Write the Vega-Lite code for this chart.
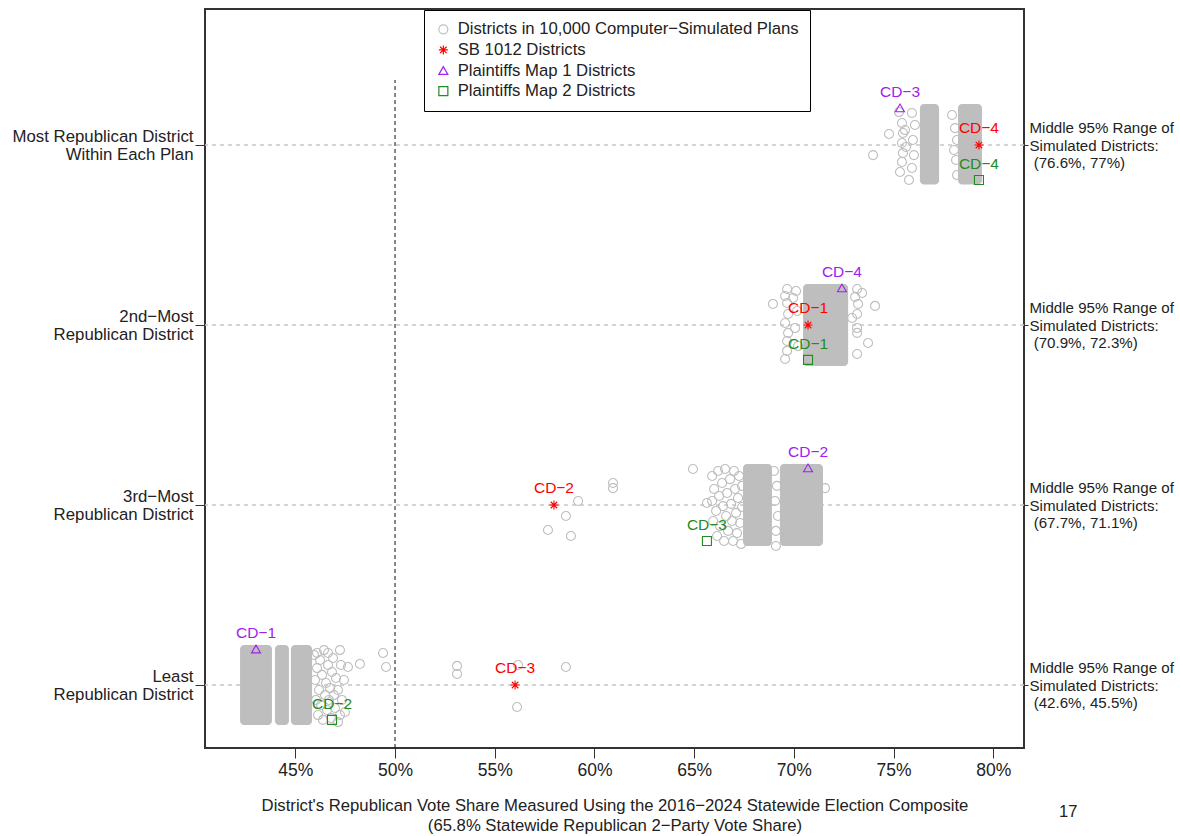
{
  "$schema": "https://vega.github.io/schema/vega-lite/v6.json",
  "width": 819,
  "height": 739,
  "autosize": {"type": "none"},
  "padding": {"left": 205, "top": 9, "right": 156, "bottom": 88},
  "background": "white",
  "config": {
    "font": "Liberation Sans",
    "view": {"stroke": "#333333", "strokeWidth": 2}
  },
  "datasets": {
    "ranks": [{"rank": 1}, {"rank": 2}, {"rank": 3}, {"rank": 4}],
    "ref": [{"share": 50, "low": 0.65, "high": 4.361}],
    "blocks": [
      {"from": 76.32, "to": 77.28, "low": 3.78, "high": 4.228},
      {"from": 78.23, "to": 79.43, "low": 3.78, "high": 4.228},
      {"from": 70.46, "to": 72.72, "low": 2.772, "high": 3.228},
      {"from": 67.45, "to": 68.9, "low": 1.772, "high": 2.228},
      {"from": 69.3, "to": 71.46, "low": 1.772, "high": 2.228},
      {"from": 42.23, "to": 43.83, "low": 0.778, "high": 1.222},
      {"from": 43.98, "to": 44.68, "low": 0.778, "high": 1.222},
      {"from": 44.78, "to": 45.84, "low": 0.778, "high": 1.222}
    ],
    "points": [
      {"series": "S", "share": 73.97, "pos": 3.944},
      {"series": "S", "share": 74.77, "pos": 4.061},
      {"series": "S", "share": 75.27, "pos": 4.183},
      {"series": "S", "share": 75.42, "pos": 4.122},
      {"series": "S", "share": 75.47, "pos": 4.067},
      {"series": "S", "share": 75.42, "pos": 4.011},
      {"series": "S", "share": 75.47, "pos": 3.956},
      {"series": "S", "share": 75.42, "pos": 3.906},
      {"series": "S", "share": 75.32, "pos": 3.85},
      {"series": "S", "share": 75.92, "pos": 4.178},
      {"series": "S", "share": 76.07, "pos": 4.111},
      {"series": "S", "share": 75.97, "pos": 4.028},
      {"series": "S", "share": 76.02, "pos": 3.944},
      {"series": "S", "share": 75.92, "pos": 3.872},
      {"series": "S", "share": 75.62, "pos": 3.989},
      {"series": "S", "share": 75.77, "pos": 3.806},
      {"series": "S", "share": 75.57, "pos": 4.083},
      {"series": "S", "share": 77.93, "pos": 4.167},
      {"series": "S", "share": 78.18, "pos": 4.028},
      {"series": "S", "share": 78.18, "pos": 3.833},
      {"series": "S", "share": 78.08, "pos": 4.094},
      {"series": "S", "share": 78.13, "pos": 3.917},
      {"series": "S", "share": 78.03, "pos": 3.972},
      {"series": "S", "share": 68.95, "pos": 3.117},
      {"series": "S", "share": 69.66, "pos": 3.2},
      {"series": "S", "share": 69.56, "pos": 3.161},
      {"series": "S", "share": 69.66, "pos": 3.122},
      {"series": "S", "share": 69.71, "pos": 3.061},
      {"series": "S", "share": 69.56, "pos": 3.011},
      {"series": "S", "share": 69.71, "pos": 2.956},
      {"series": "S", "share": 69.66, "pos": 2.911},
      {"series": "S", "share": 69.66, "pos": 2.856},
      {"series": "S", "share": 69.56, "pos": 2.811},
      {"series": "S", "share": 69.96, "pos": 3.15},
      {"series": "S", "share": 70.06, "pos": 2.983},
      {"series": "S", "share": 70.16, "pos": 3.078},
      {"series": "S", "share": 70.11, "pos": 3.189},
      {"series": "S", "share": 70.21, "pos": 2.883},
      {"series": "S", "share": 73.17, "pos": 3.2},
      {"series": "S", "share": 73.42, "pos": 3.178},
      {"series": "S", "share": 73.22, "pos": 3.117},
      {"series": "S", "share": 74.07, "pos": 3.106},
      {"series": "S", "share": 73.17, "pos": 3.061},
      {"series": "S", "share": 73.17, "pos": 2.983},
      {"series": "S", "share": 73.17, "pos": 2.956},
      {"series": "S", "share": 73.72, "pos": 2.9},
      {"series": "S", "share": 73.17, "pos": 2.839},
      {"series": "S", "share": 72.92, "pos": 3.039},
      {"series": "S", "share": 73.07, "pos": 3.156},
      {"series": "S", "share": 64.94, "pos": 2.2},
      {"series": "S", "share": 60.93, "pos": 2.122},
      {"series": "S", "share": 60.93, "pos": 2.094},
      {"series": "S", "share": 59.18, "pos": 2.022},
      {"series": "S", "share": 58.57, "pos": 1.939},
      {"series": "S", "share": 57.67, "pos": 1.861},
      {"series": "S", "share": 58.82, "pos": 1.828},
      {"series": "S", "share": 65.64, "pos": 2.011},
      {"series": "S", "share": 71.56, "pos": 2.094},
      {"series": "S", "share": 65.9, "pos": 2.161},
      {"series": "S", "share": 65.9, "pos": 2.022},
      {"series": "S", "share": 65.95, "pos": 1.911},
      {"series": "S", "share": 66.0, "pos": 2.089},
      {"series": "S", "share": 66.1, "pos": 1.967},
      {"series": "S", "share": 66.15, "pos": 1.828},
      {"series": "S", "share": 66.2, "pos": 2.189},
      {"series": "S", "share": 66.25, "pos": 2.05},
      {"series": "S", "share": 66.3, "pos": 1.883},
      {"series": "S", "share": 66.4, "pos": 2.122},
      {"series": "S", "share": 66.45, "pos": 1.994},
      {"series": "S", "share": 66.5, "pos": 1.8},
      {"series": "S", "share": 66.55, "pos": 2.2},
      {"series": "S", "share": 66.6, "pos": 1.939},
      {"series": "S", "share": 66.65, "pos": 2.067},
      {"series": "S", "share": 66.7, "pos": 1.856},
      {"series": "S", "share": 66.8, "pos": 2.144},
      {"series": "S", "share": 66.85, "pos": 2.006},
      {"series": "S", "share": 66.9, "pos": 1.911},
      {"series": "S", "share": 66.95, "pos": 1.8},
      {"series": "S", "share": 67.0, "pos": 2.189},
      {"series": "S", "share": 67.05, "pos": 2.089},
      {"series": "S", "share": 67.1, "pos": 1.956},
      {"series": "S", "share": 67.15, "pos": 1.844},
      {"series": "S", "share": 67.2, "pos": 2.039},
      {"series": "S", "share": 67.25, "pos": 2.161},
      {"series": "S", "share": 67.3, "pos": 1.9},
      {"series": "S", "share": 67.35, "pos": 1.783},
      {"series": "S", "share": 67.4, "pos": 2.106},
      {"series": "S", "share": 67.4, "pos": 1.989},
      {"series": "S", "share": 69.0, "pos": 2.189},
      {"series": "S", "share": 69.05, "pos": 2.022},
      {"series": "S", "share": 69.1, "pos": 1.856},
      {"series": "S", "share": 69.15, "pos": 2.106},
      {"series": "S", "share": 69.2, "pos": 1.939},
      {"series": "S", "share": 69.1, "pos": 1.772},
      {"series": "S", "share": 45.94, "pos": 1.167},
      {"series": "S", "share": 45.99, "pos": 1.028},
      {"series": "S", "share": 46.04, "pos": 0.917},
      {"series": "S", "share": 46.09, "pos": 1.094},
      {"series": "S", "share": 46.14, "pos": 0.833},
      {"series": "S", "share": 46.19, "pos": 0.972},
      {"series": "S", "share": 46.24, "pos": 1.139},
      {"series": "S", "share": 46.29, "pos": 0.889},
      {"series": "S", "share": 46.34, "pos": 1.056},
      {"series": "S", "share": 46.39, "pos": 0.806},
      {"series": "S", "share": 46.44, "pos": 1.194},
      {"series": "S", "share": 46.49, "pos": 0.944},
      {"series": "S", "share": 46.54, "pos": 1.011},
      {"series": "S", "share": 46.59, "pos": 0.861},
      {"series": "S", "share": 46.64, "pos": 1.111},
      {"series": "S", "share": 46.69, "pos": 0.917},
      {"series": "S", "share": 46.74, "pos": 0.983},
      {"series": "S", "share": 46.79, "pos": 0.817},
      {"series": "S", "share": 46.84, "pos": 1.072},
      {"series": "S", "share": 46.89, "pos": 1.15},
      {"series": "S", "share": 46.94, "pos": 0.944},
      {"series": "S", "share": 46.99, "pos": 0.872},
      {"series": "S", "share": 47.04, "pos": 1.039},
      {"series": "S", "share": 47.14, "pos": 0.972},
      {"series": "S", "share": 47.24, "pos": 0.833},
      {"series": "S", "share": 47.29, "pos": 1.111},
      {"series": "S", "share": 47.34, "pos": 0.917},
      {"series": "S", "share": 47.44, "pos": 1.028},
      {"series": "S", "share": 47.49, "pos": 0.85},
      {"series": "S", "share": 47.14, "pos": 0.794},
      {"series": "S", "share": 46.09, "pos": 1.178},
      {"series": "S", "share": 46.64, "pos": 1.178},
      {"series": "S", "share": 47.24, "pos": 1.194},
      {"series": "S", "share": 47.64, "pos": 1.1},
      {"series": "S", "share": 48.24, "pos": 1.117},
      {"series": "S", "share": 49.4, "pos": 1.178},
      {"series": "S", "share": 49.55, "pos": 1.1},
      {"series": "S", "share": 53.11, "pos": 1.106},
      {"series": "S", "share": 53.11, "pos": 1.061},
      {"series": "S", "share": 56.17, "pos": 1.111},
      {"series": "S", "share": 58.57, "pos": 1.1},
      {"series": "S", "share": 56.12, "pos": 0.878},
      {"series": "SB", "cd": "CD−4", "share": 79.28, "pos": 4},
      {"series": "SB", "cd": "CD−1", "share": 70.71, "pos": 3},
      {"series": "SB", "cd": "CD−2", "share": 57.97, "pos": 2},
      {"series": "SB", "cd": "CD−3", "share": 56.02, "pos": 1},
      {"series": "P1", "cd": "CD−3", "share": 75.32, "pos": 4.206},
      {"series": "P1", "cd": "CD−4", "share": 72.41, "pos": 3.206},
      {"series": "P1", "cd": "CD−2", "share": 70.71, "pos": 2.206},
      {"series": "P1", "cd": "CD−1", "share": 43.03, "pos": 1.2},
      {"series": "P2", "cd": "CD−4", "share": 79.28, "pos": 3.806},
      {"series": "P2", "cd": "CD−1", "share": 70.71, "pos": 2.806},
      {"series": "P2", "cd": "CD−3", "share": 65.64, "pos": 1.8},
      {"series": "P2", "cd": "CD−2", "share": 46.84, "pos": 0.806}
    ],
    "page": [{"text": "17", "share": 83.76, "pos": 0.294}]
  },
  "layer": [
    {
      "data": {"name": "ranks"},
      "mark": {"type": "rule", "color": "#C8C8C8", "strokeWidth": 1.3, "strokeDash": [4, 4]},
      "encoding": {
        "y": {
          "field": "rank", "type": "quantitative",
          "scale": {"domain": [0.65, 4.7556], "nice": false, "zero": false},
          "axis": {
            "orient": "left", "values": [1, 2, 3, 4], "title": null, "grid": false, "domain": false,
            "labelExpr": "datum.value == 4 ? ['Most Republican District', 'Within Each Plan'] : datum.value == 3 ? ['2nd−Most', 'Republican District'] : datum.value == 2 ? ['3rd−Most', 'Republican District'] : ['Least', 'Republican District']",
            "tickSize": 10, "tickColor": "#333333", "labelFontSize": 16.8, "labelColor": "#222222",
            "labelLineHeight": 18, "labelPadding": 2, "labelAlign": "right", "labelBaseline": "middle",
            "labelOffset": -9, "labelLimit": 400,
            "labelOverlap": false, "labelBound": false, "labelFlush": false
          }
        }
      }
    },
    {
      "data": {"name": "ref"},
      "mark": {"type": "rule", "color": "#111111", "strokeWidth": 1, "strokeDash": [4, 3]},
      "encoding": {
        "x": {
          "field": "share", "type": "quantitative",
          "scale": {"domain": [40.472, 81.539], "nice": false, "zero": false},
          "axis": {
            "orient": "bottom", "values": [45, 50, 55, 60, 65, 70, 75, 80],
            "labelExpr": "datum.value + '%'",
            "title": ["District's Republican Vote Share Measured Using the 2016−2024 Statewide Election Composite", "(65.8% Statewide Republican 2−Party Vote Share)"],
            "grid": false, "domain": false, "tickSize": 10, "tickColor": "#333333",
            "labelFontSize": 17.5, "labelColor": "#222222", "labelPadding": 3,
            "labelOverlap": false, "labelFlush": false,
            "titleFontSize": 16.7, "titleFontWeight": "normal", "titleColor": "#222222",
            "titlePadding": 19, "titleLineHeight": 20, "titleLimit": 1000
          }
        },
        "y": {"field": "low", "type": "quantitative", "scale": {"domain": [0.65, 4.7556], "nice": false, "zero": false}, "axis": null},
        "y2": {"field": "high"}
      }
    },
    {
      "data": {"name": "blocks"},
      "mark": {"type": "rect", "color": "#BEBEBE", "cornerRadius": 4},
      "encoding": {
        "x": {"field": "from", "type": "quantitative", "scale": {"domain": [40.472, 81.539], "nice": false, "zero": false}, "axis": null},
        "x2": {"field": "to"},
        "y": {
          "field": "low", "type": "quantitative",
          "scale": {"domain": [0.65, 4.7556], "nice": false, "zero": false},
          "axis": {
            "orient": "right", "values": [1, 2, 3, 4], "title": null, "grid": false, "domain": false,
            "labelExpr": "datum.value == 4 ? ['Middle 95% Range of', 'Simulated Districts:', '\u200b\u00a0(76.6%, 77%)'] : datum.value == 3 ? ['Middle 95% Range of', 'Simulated Districts:', '\u200b\u00a0(70.9%, 72.3%)'] : datum.value == 2 ? ['Middle 95% Range of', 'Simulated Districts:', '\u200b\u00a0(67.7%, 71.1%)'] : ['Middle 95% Range of', 'Simulated Districts:', '\u200b\u00a0(42.6%, 45.5%)']",
            "tickSize": 4, "tickColor": "#333333", "labelFontSize": 15.1, "labelColor": "#222222",
            "labelLineHeight": 17.5, "labelPadding": 1, "labelAlign": "left", "labelBaseline": "middle",
            "labelOffset": -17.5, "labelLimit": 400,
            "labelOverlap": false, "labelBound": false, "labelFlush": false
          }
        },
        "y2": {"field": "high"}
      }
    },
    {
      "data": {"name": "points"},
      "mark": {"type": "point", "filled": false, "size": 81, "strokeWidth": 1.1, "opacity": 1},
      "encoding": {
        "x": {"field": "share", "type": "quantitative", "scale": {"domain": [40.472, 81.539], "nice": false, "zero": false}, "axis": null},
        "y": {"field": "pos", "type": "quantitative", "scale": {"domain": [0.65, 4.7556], "nice": false, "zero": false}, "axis": null},
        "color": {
          "field": "series", "type": "nominal",
          "scale": {"domain": ["S", "SB", "P1", "P2"], "range": ["#BEBEBE", "#FF0000", "#A020F0", "#228B22"]},
          "legend": {
            "orient": "none", "legendX": 219, "legendY": 1, "title": null,
            "labelExpr": "datum.value == 'S' ? 'Districts in 10,000 Computer−Simulated Plans' : datum.value == 'SB' ? 'SB 1012 Districts' : datum.value == 'P1' ? 'Plaintiffs Map 1 Districts' : 'Plaintiffs Map 2 Districts'",
            "labelFontSize": 16.7, "labelOffset": 6, "padding": 11, "rowPadding": 2.6,
            "symbolStrokeWidth": 1.2, "symbolSize": 81, "symbolType": "circle",
            "strokeColor": "black", "fillColor": "white", "labelColor": "#222222", "labelLimit": 500,
            "encode": {
              "labels": {"update": {"fill": {"signal": "datum.value == 'SB' ? '#FF0000' : datum.value == 'P1' ? '#A020F0' : datum.value == 'P2' ? '#228B22' : '#222222'"}}},
              "legend": {"update": {"strokeWidth": {"value": 2}}}
            }
          }
        },
        "shape": {
          "field": "series", "type": "nominal",
          "scale": {"domain": ["S", "SB", "P1", "P2"], "range": ["circle", "M-1,0L1,0M0,-1L0,1M-0.72,-0.72L0.72,0.72M-0.72,0.72L0.72,-0.72", "triangle-up", "square"]},
          "legend": {
            "orient": "none", "legendX": 219, "legendY": 1, "title": null,
            "labelExpr": "datum.value == 'S' ? 'Districts in 10,000 Computer−Simulated Plans' : datum.value == 'SB' ? 'SB 1012 Districts' : datum.value == 'P1' ? 'Plaintiffs Map 1 Districts' : 'Plaintiffs Map 2 Districts'",
            "labelFontSize": 16.7, "labelOffset": 6, "padding": 11, "rowPadding": 2.6,
            "symbolStrokeWidth": 1.2, "symbolSize": 81,
            "strokeColor": "black", "fillColor": "white", "labelColor": "#222222", "labelLimit": 500,
            "encode": {
              "labels": {"update": {"fill": {"signal": "datum.value == 'SB' ? '#FF0000' : datum.value == 'P1' ? '#A020F0' : datum.value == 'P2' ? '#228B22' : '#222222'"}}},
              "legend": {"update": {"strokeWidth": {"value": 2}}}
            }
          }
        }
      }
    },
    {
      "data": {"name": "points"},
      "transform": [{"filter": "datum.series == 'SB'"}],
      "mark": {"type": "text", "color": "#FF0000", "fontSize": 15.5, "dy": -17, "baseline": "middle", "align": "center"},
      "encoding": {
        "x": {"field": "share", "type": "quantitative", "scale": {"domain": [40.472, 81.539], "nice": false, "zero": false}, "axis": null},
        "y": {"field": "pos", "type": "quantitative", "scale": {"domain": [0.65, 4.7556], "nice": false, "zero": false}, "axis": null},
        "text": {"field": "cd"}
      }
    },
    {
      "data": {"name": "points"},
      "transform": [{"filter": "datum.series == 'P1'"}],
      "mark": {"type": "text", "color": "#A020F0", "fontSize": 15.5, "dy": -16, "baseline": "middle", "align": "center"},
      "encoding": {
        "x": {"field": "share", "type": "quantitative", "scale": {"domain": [40.472, 81.539], "nice": false, "zero": false}, "axis": null},
        "y": {"field": "pos", "type": "quantitative", "scale": {"domain": [0.65, 4.7556], "nice": false, "zero": false}, "axis": null},
        "text": {"field": "cd"}
      }
    },
    {
      "data": {"name": "points"},
      "transform": [{"filter": "datum.series == 'P2'"}],
      "mark": {"type": "text", "color": "#228B22", "fontSize": 15.5, "dy": -16, "baseline": "middle", "align": "center"},
      "encoding": {
        "x": {"field": "share", "type": "quantitative", "scale": {"domain": [40.472, 81.539], "nice": false, "zero": false}, "axis": null},
        "y": {"field": "pos", "type": "quantitative", "scale": {"domain": [0.65, 4.7556], "nice": false, "zero": false}, "axis": null},
        "text": {"field": "cd"}
      }
    },
    {
      "data": {"name": "page"},
      "mark": {"type": "text", "color": "#222222", "fontSize": 16.5, "baseline": "middle", "align": "center"},
      "encoding": {
        "x": {"field": "share", "type": "quantitative", "scale": {"domain": [40.472, 81.539], "nice": false, "zero": false}, "axis": null},
        "y": {"field": "pos", "type": "quantitative", "scale": {"domain": [0.65, 4.7556], "nice": false, "zero": false}, "axis": null},
        "text": {"field": "text"}
      }
    }
  ],
  "resolve": {"axis": {"x": "independent", "y": "independent"}}
}
